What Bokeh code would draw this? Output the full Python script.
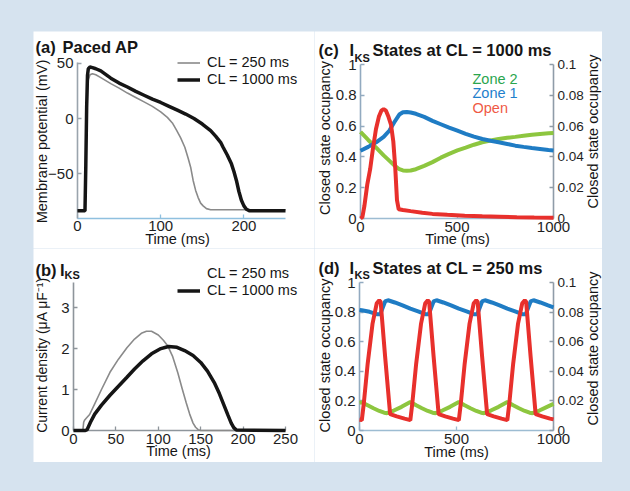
import numpy as np
from bokeh.plotting import figure
from bokeh.layouts import row, column
from bokeh.models import (Range1d, LinearAxis, FixedTicker, Label, Legend, LegendItem,
                          Spacer, GlobalInlineStyleSheet)
from bokeh.embed import file_html
from bokeh.resources import INLINE

FONT = "Liberation Sans"
BG = "#d6e3ef"

# ---------------- data ----------------
# (a) paced action potential
t_ap_1000 = [0, 9, 10, 11, 12, 13, 15, 18, 22, 28, 40, 50, 60, 70, 80, 90, 100, 110, 120, 130,
             140, 150, 160, 166, 172, 175, 180, 185, 188, 191, 194, 197, 200, 203, 207, 250]
v_ap_1000 = [-83.5, -83.5, -42, 10, 39, 45, 46.5, 46, 45, 43, 36.5, 32, 28.5, 24.5, 21, 17.5, 14.5, 11, 7.5, 4,
             0, -5, -11, -16, -21.5, -26, -33, -41, -48, -56, -66, -74, -79, -82, -83.5, -83.5]
t_ap_250 = [0, 9, 10, 11, 12, 13, 15, 18, 22, 28, 40, 50, 60, 70, 80, 90, 100, 108, 114, 119,
            124, 129, 133, 136, 139, 142, 145, 148, 151, 155, 160, 250]
v_ap_250 = [-83.5, -83.5, -52, -5, 26, 35, 39.5, 40.5, 39.5, 37, 31.5, 27.5, 23, 19, 15, 11, 6, 1, -4, -10.5,
            -17.5, -26, -36, -44, -56, -65, -71.5, -76.5, -79, -81.5, -82.5, -82.5]

# (b) IKs current density
t_iks_250 = [0, 11, 12, 13, 15, 19, 25, 33, 43, 53, 63, 72, 80, 86, 92, 100, 106, 111, 117, 123,
             128, 133, 137, 141, 144, 147, 150, 250]
i_iks_250 = [0, 0, 0.2, 0.25, 0.3, 0.39, 0.65, 1.0, 1.42, 1.74, 2.02, 2.23, 2.37, 2.42, 2.42, 2.33, 2.2, 2.07, 1.8, 1.41,
             1.03, 0.67, 0.4, 0.18, 0.08, 0.02, 0, 0]
t_iks_1000 = [0, 14, 16, 20, 25, 33, 43, 53, 63, 72, 82, 92, 102, 112, 122, 131, 141, 150, 158, 166,
              172, 178, 182, 186, 189, 192, 250]
i_iks_1000 = [0, 0, 0.02, 0.2, 0.4, 0.62, 0.86, 1.08, 1.3, 1.5, 1.7, 1.87, 1.99, 2.05, 2.03, 1.95, 1.83, 1.66, 1.45, 1.17,
              0.9, 0.59, 0.38, 0.18, 0.07, 0.01, 0]

# (c) states at CL = 1000 ms
t_c = [0, 40, 81, 120, 149, 175, 201, 220, 240, 260, 287, 330, 373, 416, 459, 502, 545, 588, 631, 674,
       716, 760, 802, 845, 888, 930, 974, 1000]
zone1_c = [0.44, 0.465, 0.495, 0.53, 0.57, 0.625, 0.675, 0.69, 0.692, 0.688, 0.68, 0.66, 0.634, 0.612, 0.59, 0.57,
           0.55, 0.532, 0.516, 0.505, 0.495, 0.484, 0.473, 0.465, 0.458, 0.452, 0.445, 0.442]
zone2_c = [0.563, 0.51, 0.46, 0.41, 0.376, 0.345, 0.32, 0.312, 0.31, 0.312, 0.32, 0.342, 0.366, 0.395, 0.42, 0.442,
           0.46, 0.479, 0.495, 0.506, 0.516, 0.524, 0.53, 0.537, 0.544, 0.549, 0.553, 0.555]
t_open_c = [0, 10, 20, 35, 50, 64, 80, 95, 108, 120, 132, 145, 158, 170, 180, 189, 198, 220, 260, 320,
            373, 450, 540, 631, 720, 810, 900, 1000]
open_c = [0, 0.001, 0.008, 0.022, 0.032, 0.045, 0.058, 0.066, 0.070, 0.071, 0.070, 0.066, 0.061, 0.05, 0.033, 0.012,
          0.006, 0.0055, 0.0048, 0.0038, 0.003, 0.0024, 0.0018, 0.0014, 0.0011, 0.0008, 0.0006, 0.0005]

# (d) states at CL = 250 ms
t_zone1_d = [0, 12, 52, 92, 107, 120, 132, 147, 182, 222, 262, 302, 342, 357, 370, 382, 397, 432, 472, 512,
             552, 592, 607, 620, 632, 647, 682, 722, 762, 802, 842, 857, 870, 882, 897, 932, 972, 1000]
zone1_d = [0.815, 0.812, 0.802, 0.785, 0.785, 0.83, 0.872, 0.88, 0.865, 0.845, 0.823, 0.805, 0.785, 0.785, 0.83,
           0.872, 0.88, 0.865, 0.845, 0.823, 0.805, 0.785, 0.785, 0.83, 0.872, 0.88, 0.865, 0.845, 0.823, 0.805,
           0.785, 0.785, 0.83, 0.872, 0.88, 0.865, 0.845, 0.832]
t_zone2_d = [0, 12, 42, 72, 102, 127, 142, 177, 217, 262, 292, 322, 352, 377, 392, 427, 467, 512, 542, 572,
             602, 627, 642, 677, 717, 762, 792, 822, 852, 877, 892, 927, 967, 1000]
zone2_d = [0.188, 0.19, 0.17, 0.15, 0.132, 0.12, 0.117, 0.135, 0.16, 0.193, 0.17, 0.15, 0.132, 0.12, 0.117, 0.135,
           0.16, 0.193, 0.17, 0.15, 0.132, 0.12, 0.117, 0.135, 0.16, 0.193, 0.17, 0.15, 0.132, 0.12, 0.117, 0.135,
           0.16, 0.18]
t_open_d = [0, 12, 22, 42, 67, 89, 102, 109, 132, 158, 192, 232, 262, 272, 292, 317, 339, 352, 359, 382,
            408, 442, 482, 512, 522, 542, 567, 589, 602, 609, 632, 658, 692, 732, 762, 772, 792, 817, 839, 852,
            859, 882, 908, 942, 982, 1000]
open_d = [0.0072, 0.007, 0.018, 0.045, 0.072, 0.086, 0.088, 0.087, 0.05, 0.011, 0.0095, 0.008, 0.007, 0.018, 0.045,
          0.072, 0.086, 0.088, 0.087, 0.05, 0.011, 0.0095, 0.008, 0.007, 0.018, 0.045, 0.072, 0.086, 0.088, 0.087,
          0.05, 0.011, 0.0095, 0.008, 0.007, 0.018, 0.045, 0.072, 0.086, 0.088, 0.087, 0.05, 0.011, 0.0095, 0.008,
          0.0075]

ticks_a_x = [0, 100, 200]
ticks_a_y = [-50, 0, 50]
ticks_b_x = [0, 50, 100, 150, 200, 250]
ticks_b_y = [0, 1, 2, 3]
ticks_cd_x = [0, 500, 1000]
ticks_cd_left = [0, 0.2, 0.4, 0.6, 0.8, 1.0]
ticks_cd_right = [0, 0.02, 0.04, 0.06, 0.08, 0.1]

GREEN = "#8dc63f"
BLUE = "#1f7cc4"
RED = "#e8302c"


# ---------------- helpers ----------------
def xrange_px(d0, p0, d1, p1, size):
    """Range so that value d0 sits at pixel p0 and d1 at p1 (from left)."""
    k = (p1 - p0) / (d1 - d0)
    start = d0 - p0 / k
    return Range1d(start, start + size / k)


def yrange_px(d0, p0, d1, p1, size):
    """Range so that value d0 sits at pixel p0 and d1 at p1 (from top)."""
    k = (p0 - p1) / (d1 - d0)
    start = d0 - (size - p0) / k
    return Range1d(start, start + size / k)


def base_fig(w, h, xr, yr):
    p = figure(width=w, height=h, x_range=xr, y_range=yr, x_axis_location=None, y_axis_location=None,
               output_backend="svg", toolbar_location=None, title=None)
    p.min_border = 0
    p.min_border_left = 0
    p.min_border_right = 0
    p.min_border_top = 0
    p.min_border_bottom = 0
    p.grid.visible = False
    p.outline_line_color = None
    p.background_fill_color = "white"
    p.border_fill_color = "white"
    return p


def add_axis(p, side, color, ticks, loc, bounds, overrides=None, size="15px", standoff=4, **names):
    ax = LinearAxis(**names)
    ax.ticker = FixedTicker(ticks=ticks)
    ax.fixed_location = loc
    ax.bounds = bounds
    ax.level = "underlay"
    ax.axis_line_color = color
    ax.axis_line_width = 1.6
    ax.major_tick_line_color = color
    ax.major_tick_line_width = 1.3
    ax.major_tick_in = 4
    ax.major_tick_out = 0
    ax.minor_tick_line_color = None
    ax.major_label_text_font = FONT
    ax.major_label_text_font_size = size
    ax.major_label_text_color = "#1e1e1e"
    ax.major_label_standoff = standoff
    if overrides:
        ax.major_label_overrides = overrides
    p.add_layout(ax, side)
    return ax


def lab(p, x, y, text, size="14.5px", bold=False, color="#161616", angle=0.0,
        align="left", baseline="alphabetic"):
    p.add_layout(Label(x=x, y=y, x_units="screen", y_units="screen", text=text,
                       text_font=FONT, text_font_size=size,
                       text_font_style="bold" if bold else "normal",
                       text_color=color, angle=angle, text_align=align,
                       text_baseline=baseline))


def legend(p, items, loc):
    lg = Legend(items=items, location=loc, label_text_font=FONT, label_text_font_size="14.5px",
                label_text_color="#161616", glyph_width=23, glyph_height=17, label_height=17,
                label_standoff=7, spacing=0, padding=0, margin=0, border_line_color=None,
                background_fill_alpha=0)
    p.add_layout(lg)


VERT = np.pi / 2
TS = "16.5px"

# ---------------- (a) ----------------
WA, HA = 281, 217
pa = base_fig(WA, HA, xrange_px(0, 44, 250, 252, WA), yrange_px(-50, 142.3, 50, 31.7, HA))
add_axis(pa, "below", "#8fc0df", ticks_a_x, -90, (0, 250), standoff=3)
add_axis(pa, "left", "#9aa4ad", ticks_a_y, 0, (-90, 50.5),
         overrides={-50: "\u221250", 0: "0", 50: "50"})
ra250 = pa.line(t_ap_250, v_ap_250, color="#8a8a8a", line_width=1.6)
ra1000 = pa.line(t_ap_1000, v_ap_1000, color="#151515", line_width=3.5)
legend(pa, [LegendItem(label="CL = 250 ms", renderers=[ra250]),
            LegendItem(label="CL = 1000 ms", renderers=[ra1000])], (144, 160.5))
lab(pa, 2, 202, "(a)", size=TS, bold=True)
lab(pa, 29, 202, "Paced AP", size=TS, bold=True)
lab(pa, 8.5, 107, "Membrane potential (mV)", angle=VERT, align="center", baseline="middle")
lab(pa, 144, 9.5, "Time (ms)", align="center", baseline="middle")

# ---------------- (b) ----------------
WB, HB = 281, 214
pb = base_fig(WB, HB, xrange_px(0, 40, 250, 252, WB), yrange_px(0, 182, 3, 59, HB))
add_axis(pb, "below", "#8e959b", ticks_b_x, 0, (0, 250), standoff=3)
add_axis(pb, "left", "#8e959b", ticks_b_y, 0, (0, 3.6))
rb250 = pb.line(t_iks_250, i_iks_250, color="#8a8a8a", line_width=1.6)
rb1000 = pb.line(t_iks_1000, i_iks_1000, color="#151515", line_width=3.5)
rb_key = pb.line(x=[], y=[], color="#9ccbe8", line_width=2)
legend(pb, [LegendItem(label="CL = 250 ms", renderers=[rb_key]),
            LegendItem(label="CL = 1000 ms", renderers=[rb1000])], (144, 163.5))
lab(pb, 2, 193, "(b)", size=TS, bold=True)
lab(pb, 26.5, 193, "I", size=TS, bold=True)
lab(pb, 31, 188, "KS", size="11px", bold=True)
lab(pb, 8.5, 107.5, "Current density (\u03bcA \u03bcF\u207b\u00b9)", size="14px", angle=VERT,
    align="center", baseline="middle")
lab(pb, 145, 12, "Time (ms)", align="center", baseline="middle")


# ---------------- (c) & (d) ----------------
def states_fig(h, px0, py0, py1):
    w = 288
    p = base_fig(w, h, xrange_px(0, px0, 1000, 239, w), yrange_px(0, py0, 1, py1, h))
    p.extra_y_ranges = {"open": yrange_px(0, py0, 0.1, py1, h)}
    add_axis(p, "below", "#9dbcd2", ticks_cd_x, 0, (0, 1000), standoff=3)
    add_axis(p, "left", "#92aac0", ticks_cd_left, 0, (0, 1),
             overrides={0: "0", 0.2: "0.2", 0.4: "0.4", 0.6: "0.6", 0.8: "0.8", 1.0: "1"})
    add_axis(p, "right", "#8f9ca8", ticks_cd_right, 1000, (0, 0.1), size="13.5px",
             overrides={0: "0", 0.02: "0.02", 0.04: "0.04", 0.06: "0.06", 0.08: "0.08", 0.1: "0.1"},
             y_range_name="open")
    return p


pc = states_fig(217, 46, 187, 33)
pc.line(t_c, zone2_c, color=GREEN, line_width=4)
pc.line(t_c, zone1_c, color=BLUE, line_width=4)
pc.line(t_open_c, open_c, color=RED, line_width=4, y_range_name="open")
lab(pc, 4, 198.5, "(c)", size=TS, bold=True)
lab(pc, 35, 198.5, "I", size=TS, bold=True)
lab(pc, 40, 191, "KS", size="11px", bold=True)
lab(pc, 58, 198.5, "States at CL = 1000 ms", size=TS, bold=True)
lab(pc, 158, 170, "Zone 2", color="#2aa54e", baseline="middle")
lab(pc, 158, 155.5, "Zone 1", color="#1f80cc", baseline="middle")
lab(pc, 158, 141, "Open", color="#ef5a45", baseline="middle")
lab(pc, 10, 110.5, "Closed state occupancy", angle=VERT, align="center", baseline="middle")
lab(pc, 278.5, 117, "Closed state occupancy", angle=VERT, align="center", baseline="middle")
lab(pc, 143, 10, "Time (ms)", align="center", baseline="middle")

pd_ = states_fig(214, 45, 182, 34)
pd_.line(t_zone2_d, zone2_d, color=GREEN, line_width=4)
pd_.line(t_zone1_d, zone1_d, color=BLUE, line_width=4)
pd_.line(t_open_d, open_d, color=RED, line_width=4, y_range_name="open")
lab(pd_, 4, 195, "(d)", size=TS, bold=True)
lab(pd_, 35, 195, "I", size=TS, bold=True)
lab(pd_, 40, 188, "KS", size="11px", bold=True)
lab(pd_, 58, 195, "States at CL = 250 ms", size=TS, bold=True)
lab(pd_, 10, 107, "Closed state occupancy", angle=VERT, align="center", baseline="middle")
lab(pd_, 278.5, 114, "Closed state occupancy", angle=VERT, align="center", baseline="middle")
lab(pd_, 142, 11, "Time (ms)", align="center", baseline="middle")

# ---------------- layout ----------------
grid = column(row(pa, pc), row(pb, pd_))
bg_css = GlobalInlineStyleSheet(css="body { background-color: %s; }" % BG)
root = column(Spacer(width=630, height=31),
              row(Spacer(width=33, height=431), grid, Spacer(width=28, height=431)),
              Spacer(width=630, height=29),
              stylesheets=[bg_css])

open("out.html", "w").write(file_html(root, INLINE))
